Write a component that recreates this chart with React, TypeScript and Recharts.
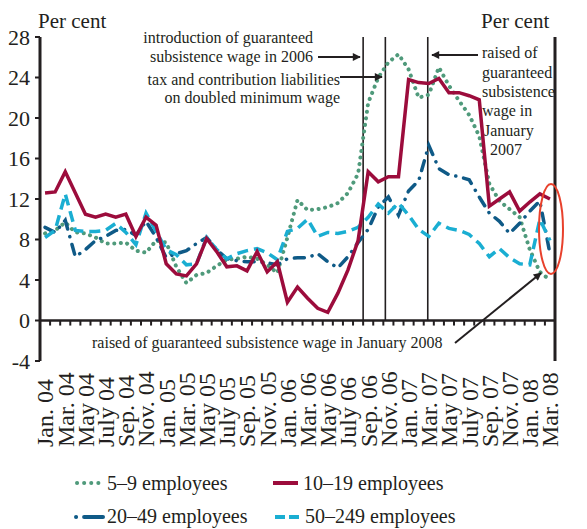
import { LineChart, Line, XAxis, YAxis, ReferenceLine } from "recharts";

const INK = "#231f20";
const FONT = "'Liberation Serif', 'DejaVu Serif', serif";

// month labels, Jan. 04 .. Mar. 08
const monthNames = ["Jan.", "Feb.", "Mar.", "Apr.", "May", "June", "July", "Aug.", "Sep.", "Oct.", "Nov.", "Dec."];
const years = ["04", "05", "06", "07", "08"];
const months: string[] = [];
years.forEach((y) => monthNames.forEach((m) => months.push(`${m} ${y}`)));
months.length = 51;

// per cent
const emp5to9 = [
  8.6, 8.9, 9.7, 8.7, 8.6, 8.2, 7.6, 7.6, 7.7, 6.9, 6.7, 7.9, 7.7, 5.3, 3.7, 4.5, 4.7, 5.4, 6.0, 6.1,
  6.3, 6.1, 5.5, 4.7, 8.2, 11.9, 10.9, 11.0, 11.2, 11.6, 12.6, 14.5, 21.5, 24.0, 25.5, 26.3, 24.8, 22.0, 22.3, 25.0,
  23.2, 21.7, 20.3, 18.2, 13.5, 11.8, 11.0, 10.2, 7.0, 4.8, 4.0,
];
const emp10to19 = [
  12.6, 12.7, 14.7, 12.6, 10.5, 10.2, 10.5, 10.2, 10.5, 8.3, 10.2, 9.4, 5.6, 4.6, 4.4, 5.6, 8.1, 6.8, 5.3, 5.4,
  4.9, 6.8, 4.8, 5.8, 1.8, 3.3, 2.2, 1.2, 0.8, 2.7, 5.0, 7.9, 14.7, 13.7, 14.2, 14.2, 23.8, 23.5, 23.4, 23.9,
  22.5, 22.5, 22.2, 21.8, 11.3, 12.0, 12.7, 10.8, 11.7, 12.5, 12.0,
];
const emp20to49 = [
  9.2, 8.7, 9.9, 6.3, 7.0, 7.9, 8.3, 8.9, 9.0, 8.4, 9.8, 8.2, 6.2, 6.6, 6.9, 7.6, 8.2, 7.0, 6.1, 5.9,
  5.8, 5.8, 5.7, 5.5, 6.1, 6.2, 6.2, 6.6, 5.8, 5.2, 6.3, 7.7, 9.0, 11.2, 12.2, 10.4, 12.8, 13.8, 17.3, 15.0,
  14.4, 14.2, 13.9, 12.2, 10.6, 9.8, 8.6, 9.6, 10.8, 11.8, 6.6,
];
const emp50to249 = [
  8.2, 8.9, 12.5, 8.9, 8.8, 8.8, 8.9, 9.6, 8.7, 7.5, 10.6, 8.8, 7.0, 6.5, 5.5, 5.6, 8.2, 7.0, 6.1, 6.6,
  6.9, 7.1, 6.7, 6.0, 8.8, 9.1, 10.0, 8.3, 8.7, 8.6, 8.8, 9.2, 10.2, 11.5, 10.6, 11.6, 10.4, 9.0, 8.3, 9.6,
  9.1, 8.9, 8.5, 7.6, 6.3, 7.1, 6.2, 5.6, 5.5, 10.0, 7.9,
];

const yTicks = [-4, 0, 4, 8, 12, 16, 20, 24, 28];
const xTicks = months.map((_, i) => i).filter((i) => i % 2 === 0);
// positions (month index) of the three event lines
const eventMarks = [31.5, 33.7, 37.9];

const data = months.map((m, i) => ({
  idx: i,
  month: m,
  a: emp5to9[i],
  b: emp10to19[i],
  c: emp20to49[i],
  d: emp50to249[i],
}));

function MonthTick(props: any) {
  const { x, y, payload } = props;
  const ty = y + 86;
  return (
    <text x={x} y={ty} dy="0.35em" transform={`rotate(-90, ${x}, ${ty})`} textAnchor="start" fontSize={24} fill={INK} fontFamily={FONT}>
      {months[payload.value]}
    </text>
  );
}

const tickStyle = { fill: INK, fontSize: 22, fontFamily: FONT };

export default function App() {
  return (
    <div style={{ position: "absolute", left: 0, top: 0, width: 587, height: 529, background: "#fff" }}>
      <LineChart width={587} height={455} data={data} margin={{ top: 37, right: 0, bottom: 0, left: 0 }}>
        <XAxis
          type="number"
          dataKey="idx"
          domain={[-0.5, 50.5]}
          ticks={xTicks}
          interval={0}
          height={94}
          axisLine={false}
          tickLine={false}
          tickSize={0}
          tickMargin={0}
          tick={(p: any) => <MonthTick {...p} />}
        />
        <YAxis
          yAxisId="left"
          domain={[-4, 28]}
          ticks={yTicks}
          interval={0}
          width={40}
          tickSize={5}
          tickMargin={5}
          axisLine={{ stroke: INK, strokeWidth: 3 }}
          tickLine={{ stroke: INK, strokeWidth: 2 }}
          tick={tickStyle}
        />
        <YAxis
          yAxisId="right"
          orientation="right"
          domain={[-4, 28]}
          ticks={yTicks}
          interval={0}
          width={32}
          tickSize={5}
          tickMargin={4}
          axisLine={{ stroke: INK, strokeWidth: 3 }}
          tickLine={{ stroke: INK, strokeWidth: 2 }}
          tick={tickStyle}
        />
        <ReferenceLine yAxisId="left" y={0} stroke={INK} strokeWidth={2.5} />
        {months.slice(1).map((_, i) => (
          <ReferenceLine
            key={`t${i}`}
            yAxisId="left"
            segment={[{ x: i + 0.5, y: 0 }, { x: i + 0.5, y: -0.5 }]}
            stroke={INK}
            strokeWidth={2}
          />
        ))}
        {eventMarks.map((v) => (
          <ReferenceLine
            key={`e${v}`}
            yAxisId="left"
            segment={[{ x: v, y: 0 }, { x: v, y: 28 }]}
            stroke={INK}
            strokeWidth={1.6}
          />
        ))}
        <Line yAxisId="left" type="linear" dataKey="a" stroke="#4f9a7b" strokeWidth={4} strokeDasharray="0.1 6.5" strokeLinecap="round" dot={false} isAnimationActive={false} />
        <Line yAxisId="left" type="linear" dataKey="c" stroke="#0f5a87" strokeWidth={3.5} strokeDasharray="10 8 0.1 8" strokeLinecap="round" dot={false} isAnimationActive={false} />
        <Line yAxisId="left" type="linear" dataKey="d" stroke="#1aaed2" strokeWidth={3.5} strokeDasharray="11 6" dot={false} isAnimationActive={false} />
        <Line yAxisId="left" type="linear" dataKey="b" stroke="#9c0c3c" strokeWidth={3.5} dot={false} isAnimationActive={false} />
      </LineChart>

      <svg width={587} height={529} style={{ position: "absolute", left: 0, top: 0, pointerEvents: "none" }} fontFamily={FONT} fill={INK}>
        <defs>
          <marker id="ah" viewBox="0 0 10 10" refX="9" refY="5" markerWidth="5" markerHeight="4" orient="auto">
            <path d="M0,0 L10,5 L0,10 z" fill={INK} />
          </marker>
        </defs>
        <text x={38} y={28} fontSize={21}>Per cent</text>
        <text x={481} y={28} fontSize={21}>Per cent</text>

        <g fontSize={16} textAnchor="end">
          <text x={313} y={43}>introduction of guaranteed</text>
          <text x={313} y={62}>subsistence wage in 2006</text>
          <text x={340} y={85}>tax and contribution liabilities</text>
          <text x={340} y={103}>on doubled minimum wage</text>
        </g>
        <line x1={318} y1={57} x2={360} y2={57} stroke={INK} strokeWidth={2} markerEnd="url(#ah)" />
        <line x1={340} y1={77} x2={382} y2={77} stroke={INK} strokeWidth={2} markerEnd="url(#ah)" />

        <g fontSize={16}>
          <text x={482} y={58}>raised of</text>
          <text x={482} y={78}>guaranteed</text>
          <text x={482} y={97}>subsistence</text>
          <text x={482} y={116}>wage in</text>
          <text x={484} y={136}>January</text>
          <text x={490} y={155}>2007</text>
        </g>
        <line x1={478} y1={55} x2={432} y2={55} stroke={INK} strokeWidth={2} markerEnd="url(#ah)" />

        <text x={92} y={348} fontSize={16}>raised of guaranteed subsistence wage in January 2008</text>
        <line x1={455} y1={343} x2={541} y2={273} stroke={INK} strokeWidth={2} markerEnd="url(#ah)" />

        <ellipse cx={551} cy={229} rx={12} ry={45} fill="none" stroke="#e8412c" strokeWidth={2} />

        <g fontSize={20}>
          <line x1={77} y1={483} x2={103} y2={483} stroke="#4f9a7b" strokeWidth={4} strokeDasharray="0.1 7" strokeLinecap="round" />
          <text x={107} y={490}>5–9 employees</text>
          <line x1={273} y1={483} x2={298} y2={483} stroke="#9c0c3c" strokeWidth={4} />
          <text x={303} y={490}>10–19 employees</text>
          <line x1={76} y1={517} x2={103} y2={517} stroke="#0f5a87" strokeWidth={4} strokeDasharray="0.1 8 14" strokeLinecap="round" />
          <text x={107} y={523}>20–49 employees</text>
          <line x1={275} y1={517} x2={299} y2={517} stroke="#1aaed2" strokeWidth={4} strokeDasharray="10 4" />
          <text x={305} y={523}>50–249 employees</text>
        </g>
      </svg>
    </div>
  );
}
